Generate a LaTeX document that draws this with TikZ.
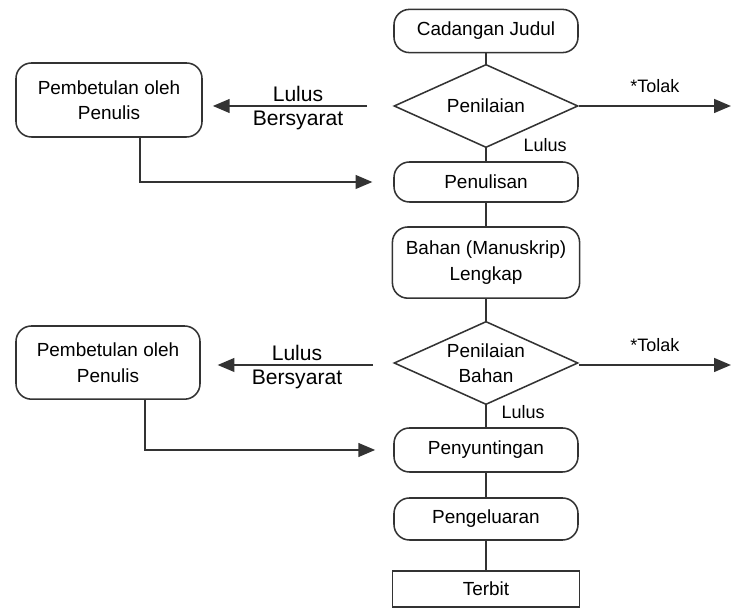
\documentclass[tikz,border=0pt]{standalone}
\usepackage{fontspec}
\setmainfont{Liberation Sans}
\usetikzlibrary{shapes, arrows.meta, positioning}

\begin{document}
\begin{tikzpicture}[
        proc/.style={draw=black!80, line width=1.1pt, rounded corners=11pt,
            minimum width=4.6cm, align=center, font=\fontsize{13.5}{18}\selectfont},
        decide/.style={diamond, draw=black!80, line width=1.1pt, aspect=2.25,
            inner sep=0pt, minimum width=4.6cm, minimum height=2.08cm,
            align=center, font=\fontsize{13.5}{18}\selectfont},
        endbox/.style={draw=black!80, line width=1.1pt, minimum width=4.68cm,
            minimum height=0.9cm, font=\fontsize{13.5}{18}\selectfont},
        link/.style={draw=black!80, line width=1.2pt},
        arr/.style={-{Triangle[length=4.2mm, width=3.4mm]}, draw=black!80, line width=1.6pt},
        biglbl/.style={font=\fontsize{15}{18}\selectfont, inner sep=1pt},
        lbl/.style={font=\fontsize{12.8}{15}\selectfont, inner sep=1pt},
    ]
    \useasboundingbox (0, 0) rectangle (18.275, 15.225);

    %% ---- Main column ----
    \node[proc, minimum height=1.08cm] (cadangan) at (12.15, 14.45) {Cadangan Judul};
    \node[decide] (penilaian) at (12.15, 12.575) {Penilaian};
    \node[proc, minimum height=1.0cm] (penulisan) at (12.15, 10.675) {Penulisan};
    \node[proc, minimum width=4.68cm, minimum height=1.78cm] (bahan) at (12.15, 8.66)
        {Bahan (Manuskrip)\\Lengkap};
    \node[decide] (nilaibahan) at (12.15, 6.15) {Penilaian\\Bahan};
    \node[proc, minimum height=1.1cm] (sunting) at (12.15, 3.975) {Penyuntingan};
    \node[proc, minimum height=1.05cm] (keluar) at (12.15, 2.25) {Pengeluaran};
    \node[endbox] (terbit) at (12.15, 0.5) {Terbit};

    %% ---- Correction boxes ----
    \node[proc, minimum width=4.65cm, minimum height=1.85cm] (betul1) at (2.725, 12.725)
        {Pembetulan oleh\\Penulis};
    \node[proc, minimum width=4.6cm, minimum height=1.83cm] (betul2) at (2.7, 6.16)
        {Pembetulan oleh\\Penulis};

    %% ---- Reject ends ----
    \coordinate (tolak1) at (18.275, 12.575);
    \coordinate (tolak2) at (18.275, 6.1);

    % vertical flow
    \draw[link] (cadangan) -- (penilaian);
    \draw[link] (penilaian) -- (penulisan);
    \draw[link] (penulisan) -- (bahan);
    \draw[link] (bahan) -- (nilaibahan);
    \draw[link] (nilaibahan) -- (sunting);
    \draw[link] (sunting) -- (keluar);
    \draw[link] (keluar) -- (terbit);

    \node[lbl, anchor=west] at (13.05, 11.6) {Lulus};
    \node[lbl, anchor=west] at (12.5, 4.925) {Lulus};

    % rejected
    \draw[arr] (penilaian.east) -- (tolak1)
        node[midway, above=8pt, lbl] {*Tolak};
    \draw[arr] (nilaibahan.east |- tolak2) -- (tolak2)
        node[midway, above=8pt, lbl] {*Tolak};

    % conditional pass
    \draw[arr, shorten <=0.65cm, shorten >=0.25cm]
        (penilaian.west) -- (penilaian.west -| betul1.east)
        node[midway, above=1pt, biglbl] {Lulus}
        node[midway, below=2pt, biglbl] {Bersyarat};
    \draw[arr, shorten <=0.5cm, shorten >=0.42cm]
        (nilaibahan.west |- tolak2) -- (tolak2 -| betul2.east)
        node[midway, above=1pt, biglbl] {Lulus}
        node[midway, below=2pt, biglbl] {Bersyarat};

    % back into the flow
    \draw[arr, shorten >=0.52cm] ([xshift=0.78cm]betul1.south) |- (penulisan.west);
    \draw[arr, shorten >=0.45cm] ([xshift=0.92cm]betul2.south) |- (sunting.west);

\end{tikzpicture}
\end{document}
